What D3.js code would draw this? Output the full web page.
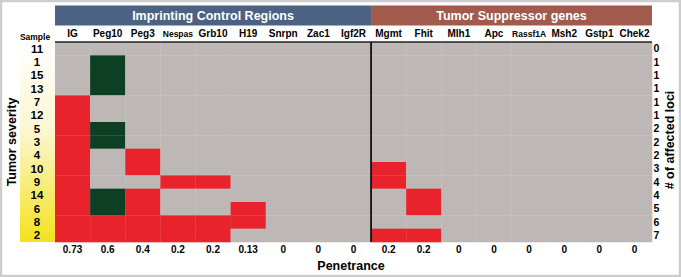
<!DOCTYPE html>
<html lang="en">
    <head>
        <meta charset="utf-8">
        <title>Methylation heatmap</title>
        <script type="text/javascript" src="https://d3js.org/d3.v7.min.js"></script>
        <style type="text/css">
            body {
                margin: 0;
                background: white;
            }
            svg {
                display: block;
                font-family: "Liberation Sans", Arial, sans-serif;
                font-weight: bold;
            }
        </style>
    </head>
    <body>
        <svg width="681" height="277"></svg>
        <script type="text/javascript">

        // data
        const samples = ["11", "1", "15", "13", "7", "12", "5", "3", "4", "10", "9", "14", "6", "8", "2"];
        const genes = ["IG", "Peg10", "Peg3", "Nespas", "Grb10", "H19", "Snrpn", "Zac1", "Igf2R",
                       "Mgmt", "Fhit", "Mlh1", "Apc", "Rassf1A", "Msh2", "Gstp1", "Chek2"];
        const groups = ["Imprinting Control Regions", "Tumor Suppressor genes"];
        const groupSizes = [9, 8];
        const penetrance = ["0.73", "0.6", "0.4", "0.2", "0.2", "0.13", "0", "0", "0",
                            "0.2", "0.2", "0", "0", "0", "0", "0", "0"];
        const affectedLoci = [0, 1, 1, 1, 1, 1, 2, 2, 2, 3, 4, 4, 5, 6, 7];
        // 0 = unchanged, 1 = red, 2 = dark green; one string per sample, one char per gene
        const status = [
            "00000000000000000",
            "02000000000000000",
            "02000000000000000",
            "02000000000000000",
            "10000000000000000",
            "10000000000000000",
            "12000000000000000",
            "12000000000000000",
            "10100000000000000",
            "10100000010000000",
            "10011000010000000",
            "12100000001000000",
            "12100100001000000",
            "11111100000000000",
            "11111000011000000"
        ];

        const svg = d3.select("svg");
        const gLeft = 55, gRight = 652, gTop = 42, gBottom = 242;

        const xScale = d3.scaleBand()
                        .domain(genes)
                        .range([gLeft, gRight]);
        const yScale = d3.scaleBand()
                        .domain(samples)
                        .range([gTop, gBottom]);
        const color = d3.scaleOrdinal()
                        .domain(["0", "1", "2"])
                        .range(["#bdb8b5", "#e8232b", "#0c3f24"]);

        // frame
        svg.append("rect")
            .attr("x", 1).attr("y", 1)
            .attr("width", 679).attr("height", 275)
            .attr("fill", "white")
            .attr("stroke", "#cdcdcd")
            .attr("stroke-width", 2.5);

        // severity gradient
        const grad = svg.append("defs")
            .append("linearGradient")
            .attr("id", "sev")
            .attr("x1", 0).attr("y1", 0).attr("x2", 0).attr("y2", 1);
        grad.append("stop").attr("offset", "0%").attr("stop-color", "#ffffff");
        grad.append("stop").attr("offset", "45%").attr("stop-color", "#fcf6d0");
        grad.append("stop").attr("offset", "100%").attr("stop-color", "#f4e21c");
        svg.append("rect")
            .attr("x", 20).attr("y", gTop)
            .attr("width", gLeft - 20).attr("height", gBottom - gTop)
            .attr("fill", "url(#sev)");

        // cells
        const cells = [];
        status.forEach((row, i) => {
            genes.forEach((g, j) => cells.push({sample: samples[i], gene: g, v: row[j]}));
        });
        svg.append("g")
            .selectAll("rect")
            .data(cells)
            .join("rect")
            .attr("x", d => xScale(d.gene))
            .attr("y", d => yScale(d.sample))
            .attr("width", xScale.bandwidth() + 0.3)
            .attr("height", yScale.bandwidth() + 0.3)
            .attr("fill", d => color(d.v));

        // group header bars
        let start = 0;
        const groupColors = ["#4c6282", "#a25a4c"];
        groups.forEach((name, i) => {
            const x0 = xScale(genes[start]);
            const x1 = xScale(genes[start + groupSizes[i] - 1]) + xScale.bandwidth();
            svg.append("rect")
                .attr("x", x0).attr("y", 5.5)
                .attr("width", x1 - x0).attr("height", 20)
                .attr("fill", groupColors[i]);
            svg.append("text")
                .attr("x", (x0 + x1) / 2).attr("y", 20)
                .attr("text-anchor", "middle")
                .attr("fill", "white")
                .style("font-size", "12.5px")
                .text(name);
            start += groupSizes[i];
        });

        // gene labels
        svg.append("g")
            .selectAll("text")
            .data(genes)
            .join("text")
            .attr("x", d => xScale(d) + xScale.bandwidth() / 2)
            .attr("y", 37)
            .attr("text-anchor", "middle")
            .style("font-size", d => (d == "Nespas" || d == "Rassf1A") ? "8.5px" : "10px")
            .text(d => d);

        svg.append("text")
            .attr("x", 35).attr("y", 40)
            .attr("text-anchor", "middle")
            .style("font-size", "8.5px")
            .text("Sample");

        // line under labels and divider
        svg.append("line")
            .attr("x1", gLeft).attr("x2", gRight)
            .attr("y1", gTop).attr("y2", gTop)
            .attr("stroke", "#222").attr("stroke-width", 1.5);
        const divX = xScale(genes[groupSizes[0]]);
        svg.append("line")
            .attr("x1", divX).attr("x2", divX)
            .attr("y1", gTop).attr("y2", gBottom)
            .attr("stroke", "#111").attr("stroke-width", 1.8);

        // sample labels
        svg.append("g")
            .selectAll("text")
            .data(samples)
            .join("text")
            .attr("x", 37)
            .attr("y", d => yScale(d) + yScale.bandwidth() / 2)
            .attr("dy", "0.36em")
            .attr("text-anchor", "middle")
            .style("font-size", "11.5px")
            .text(d => d);

        // affected loci
        svg.append("g")
            .selectAll("text")
            .data(affectedLoci)
            .join("text")
            .attr("x", gRight + 1.5)
            .attr("y", (d, i) => yScale(samples[i]) + yScale.bandwidth() / 2)
            .attr("dy", "0.36em")
            .style("font-size", "10.5px")
            .text(d => d);

        // penetrance
        svg.append("g")
            .selectAll("text")
            .data(penetrance)
            .join("text")
            .attr("x", (d, i) => xScale(genes[i]) + xScale.bandwidth() / 2)
            .attr("y", 253)
            .attr("text-anchor", "middle")
            .style("font-size", "10px")
            .text(d => d);

        // axis titles
        svg.append("text")
            .attr("x", 351).attr("y", 270)
            .attr("text-anchor", "middle")
            .style("font-size", "12.5px")
            .text("Penetrance");

        svg.append("text")
            .attr("transform", "translate(16,142) rotate(-90)")
            .attr("text-anchor", "middle")
            .style("font-size", "12.5px")
            .text("Tumor severity");

        svg.append("text")
            .attr("transform", "translate(674,140) rotate(-90)")
            .attr("text-anchor", "middle")
            .style("font-size", "12.5px")
            .text("# of affected loci");

        </script>
    </body>
</html>
